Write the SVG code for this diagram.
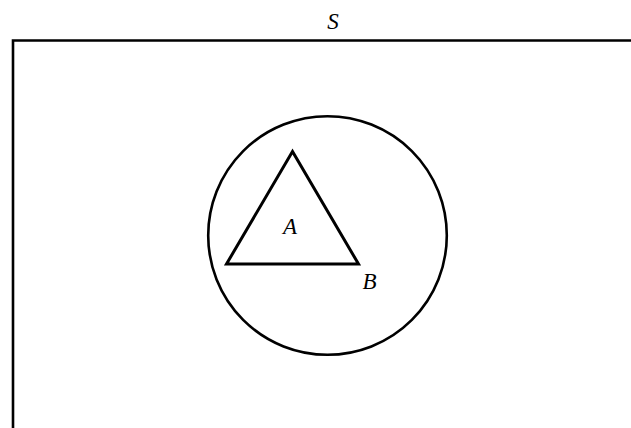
<svg xmlns="http://www.w3.org/2000/svg" width="631" height="428" viewBox="0 0 631 428">
<style>
.ln{fill:none;stroke:#000;stroke-width:2.6}
.lb{font-family:"Liberation Serif",serif;font-style:italic;font-size:23px;fill:#000}
</style>
<rect width="631" height="428" fill="#fff"/>
<g id="S">
<polyline class="ln" points="13,428 13,40.5 640,40.5"/>
<text class="lb" x="333" y="29" text-anchor="middle">S</text>
</g>
<g id="B">
<circle class="ln" cx="327.5" cy="235.5" r="119.3"/>
<text class="lb" x="369.5" y="289" text-anchor="middle">B</text>
</g>
<g id="A">
<polygon class="ln" points="292.5,151.5 226.5,264 358.5,264" style="stroke-width:3"/>
<text class="lb" x="290" y="234" text-anchor="middle">A</text>
</g>
<g id="connectors"/>
</svg>
